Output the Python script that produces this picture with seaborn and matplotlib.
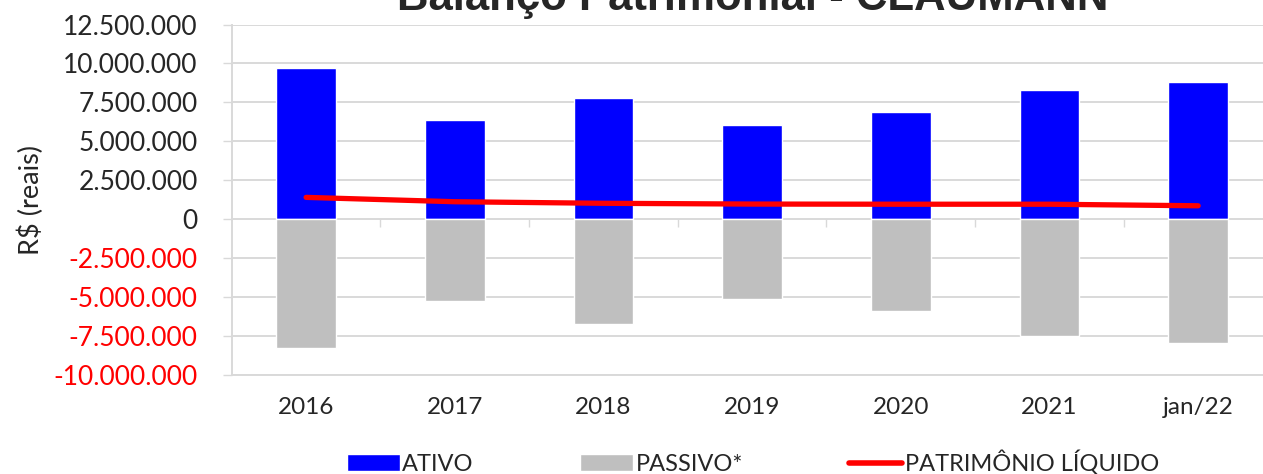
import numpy as np
import matplotlib.pyplot as plt
import seaborn as sns
from matplotlib.patches import Patch
from matplotlib.lines import Line2D

# values (R$)
periodos = ["2016", "2017", "2018", "2019", "2020", "2021", "jan/22"]
ativo = [9680000, 6390000, 7760000, 6070000, 6880000, 8310000, 8830000]
passivo = [-8290000, -5280000, -6750000, -5110000, -5940000, -7500000, -7970000]
patrimonio = [1390000, 1110000, 1010000, 960000, 950000, 950000, 850000]
yticks = np.arange(-10000000, 12500001, 2500000)

sns.set_theme(style="white")
plt.rcParams['font.family'] = ['Lato', 'DejaVu Sans']

fig = plt.figure(figsize=(12.63, 4.74), dpi=100)
ax = fig.add_axes([0.1835, 0.2097, 0.8165, 0.7386])

sns.barplot(x=periodos, y=ativo, color="#0000FF", saturation=1, width=0.4, ax=ax, zorder=3)
sns.barplot(x=periodos, y=passivo, color="#BFBFBF", saturation=1, width=0.4, ax=ax, zorder=3)
sns.pointplot(x=periodos, y=patrimonio, color="#FF0000", markers="", lw=3.8, ax=ax, zorder=4)

ax.set_ylim(yticks[0], yticks[-1])
ax.set_xlim(-0.5, 6.436)
ax.set_yticks(yticks)
ax.set_yticklabels([f"{v:,.0f}".replace(",", ".") for v in yticks], fontsize=19)
for lbl, v in zip(ax.get_yticklabels(), yticks):
    if v < 0:
        lbl.set_color("#FF0000")
ax.yaxis.grid(True, color="#D9D9D9", lw=1.4, zorder=0)
ax.set_axisbelow(True)
ax.tick_params(axis="y", length=6.5, width=1, color="#D9D9D9", pad=18, left=True)
ax.tick_params(axis="x", length=0, pad=16, labelsize=17.5)
ax.set_xlabel("")
ax.set_ylabel("R$ (reais)", fontsize=19.5, labelpad=7)

for s in ["top", "right"]:
    ax.spines[s].set_visible(False)
for s in ["left", "bottom"]:
    ax.spines[s].set_color("#D9D9D9")
    ax.spines[s].set_linewidth(1.4)

# category boundary ticks on the zero line
zero_pos = (0 - yticks[0]) / (yticks[-1] - yticks[0])
sec = ax.secondary_xaxis(zero_pos)
sec.set_xticks(np.arange(len(periodos) - 1) + 0.5)
sec.set_xticklabels([])
sec.tick_params(length=6, width=1, color="#D9D9D9", direction="out")
sec.spines["bottom"].set_visible(False)
sec.spines["top"].set_visible(False)

# title is partly cut off at the top edge, as in the original
fig.text(0.596, 0.979, "Balanço Patrimonial - CLAUMANN", ha="center", va="baseline",
         fontsize=31.5, fontweight="bold", family=["Liberation Sans", "DejaVu Sans"])

handles = [Patch(facecolor="#0000FF"), Patch(facecolor="#BFBFBF"),
           Line2D([0], [0], color="#FF0000", lw=4, solid_capstyle="round")]
fig.legend(handles, ["ATIVO", "PASSIVO*", "PATRIMÔNIO LÍQUIDO"], loc="center",
           bbox_to_anchor=(0.596, 0.024), ncol=3, frameon=False, fontsize=17,
           handlelength=2.25, handleheight=0.72, handletextpad=0.1, columnspacing=4.5,
           borderpad=0)

fig.savefig("out.png", dpi=100)
